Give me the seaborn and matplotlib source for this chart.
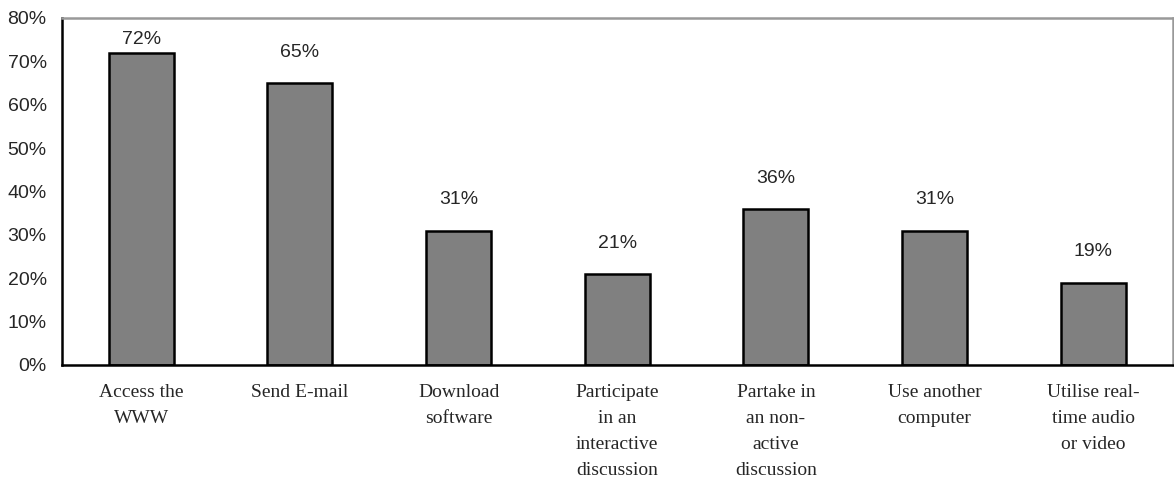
import numpy as np
import pandas as pd
import matplotlib
matplotlib.use("Agg")
import matplotlib.pyplot as plt
import seaborn as sns

# Données du graphique
categories = [
    "Access the\nWWW",
    "Send E-mail",
    "Download\nsoftware",
    "Participate\nin an\ninteractive\ndiscussion",
    "Partake in\nan non-\nactive\ndiscussion",
    "Use another\ncomputer",
    "Utilise real-\ntime audio\nor video",
]
values = [72, 65, 31, 21, 36, 31, 19]
y_ticks = [0, 10, 20, 30, 40, 50, 60, 70, 80]

df = pd.DataFrame({"activity": categories, "pct": values})

sns.set_style("white")
plt.rcParams["font.family"] = ["Liberation Sans", "DejaVu Sans"]

fig = plt.figure(figsize=(11.74, 4.86), dpi=100)
ax = fig.add_axes([0.0528, 0.249, 0.946, 0.714])

sns.barplot(data=df, x="activity", y="pct", color="#808080", saturation=1,
            edgecolor="black", linewidth=1.8, width=0.41, ax=ax)

ax.set_ylim(0, 80)
ax.set_xlim(-0.5, len(categories) - 0.5)
ax.set_yticks(y_ticks)
ax.set_yticklabels([f"{t}%" for t in y_ticks], fontsize=14)
ax.set_xlabel("")
ax.set_ylabel("")

# Étiquettes des valeurs au-dessus des barres
for i, v in enumerate(values):
    ax.text(i, min(v + 7.1, 75), f"{v}%", ha="center", va="center", fontsize=14)

# Axe x : graduations entre les catégories
ax.set_xticks(range(len(categories)))
ax.set_xticklabels(categories, family=["Liberation Serif", "DejaVu Serif"],
                   fontsize=14, linespacing=1.68, va="top")
ax.tick_params(axis="x", which="major", length=0, pad=14)
ax.set_xticks(np.arange(-0.5, len(categories), 1), minor=True)
ax.tick_params(axis="x", which="minor", length=7, width=1.8, direction="inout", color="black")
ax.tick_params(axis="y", length=10, width=1.8, direction="inout", color="black", pad=6)

for side in ["left", "bottom"]:
    ax.spines[side].set_color("black")
    ax.spines[side].set_linewidth(1.8)
for side in ["top", "right"]:
    ax.spines[side].set_color("#999999")
    ax.spines[side].set_linewidth(1.8)

fig.savefig("out.png", dpi=100)
